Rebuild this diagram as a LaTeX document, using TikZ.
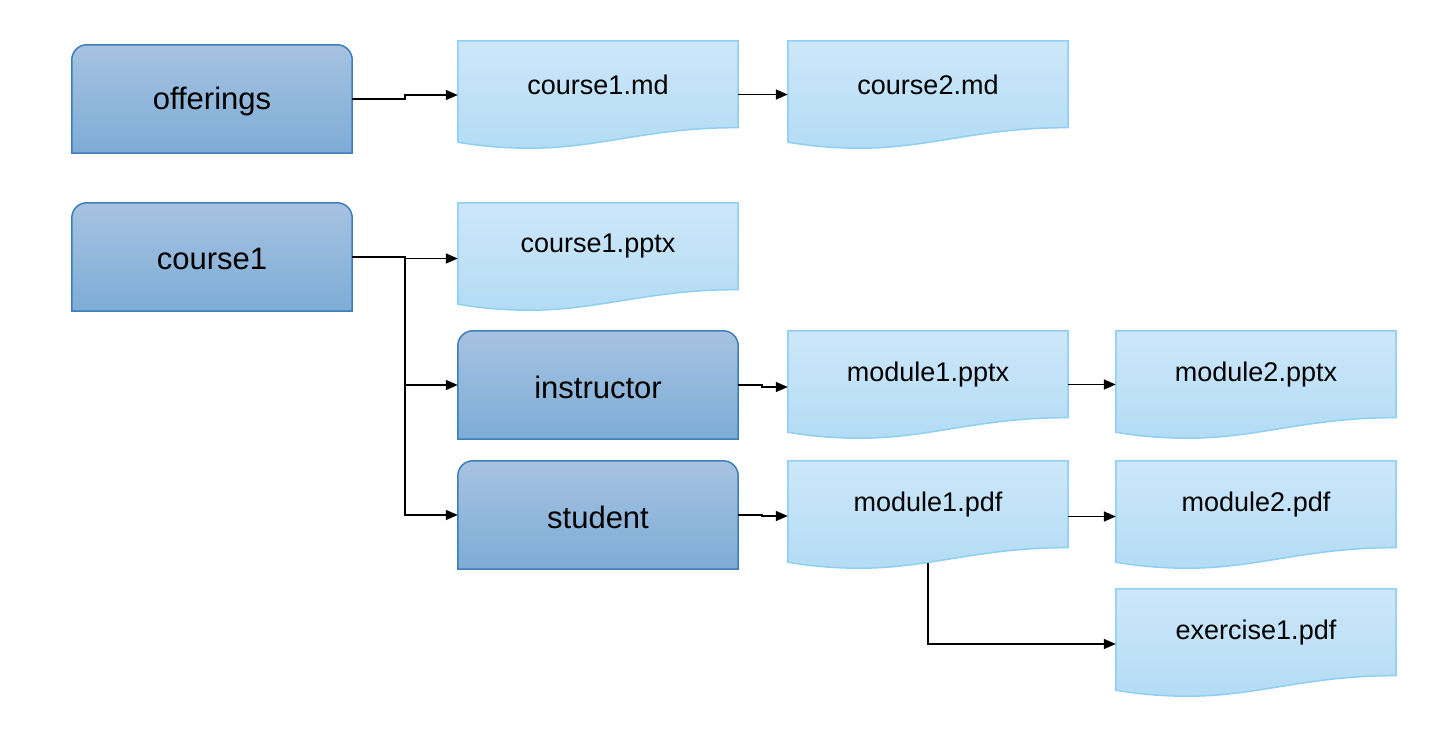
\documentclass[tikz,border=0pt]{standalone}
\usepackage{fontspec}
\setmainfont{Liberation Sans}
\usetikzlibrary{arrows.meta,backgrounds}

\definecolor{boxtop}{HTML}{A6C3E1}
\definecolor{boxbot}{HTML}{7DACD6}
\definecolor{boxline}{HTML}{3E7FBA}
\definecolor{doctop}{HTML}{CDE7F9}
\definecolor{docbot}{HTML}{B3DCF5}
\definecolor{docline}{HTML}{8ECFF2}

\begin{document}
\begin{tikzpicture}[x=1pt,y=-1pt,
every node/.style={inner sep=0pt},
folder/.style={minimum width=280pt, minimum height=108pt},
docu/.style={minimum width=280pt, minimum height=107pt},
link/.style={line width=1.5pt, -{Triangle[length=12pt,width=10pt]}}
]
\useasboundingbox (0,0) rectangle (1452,742);

% folders (square bottom corners)
\foreach \n/\x/\y/\t in {off/212/99/offerings, crs/212/257/course1,
                         ins/598/385/instructor, stu/598/515/student}
{
  \node (\n) [folder] at (\x,\y) {};
  \shade[top color=boxtop, bottom color=boxbot, draw=boxline, line width=1.5pt, rounded corners=15pt]
     (\n.south west) -- (\n.north west) -- (\n.north east) [sharp corners] -- (\n.south east) -- cycle;
  \node at ([yshift=-2pt]\n) [font=\fontsize{31}{36}\selectfont] {\t};
}

% documents
\foreach \n/\x/\y/\t in {cmd/598/94.5/course1.md, c2md/928/94.5/course2.md,
                         cppt/598/256.5/course1.pptx,
                         m1ppt/928/384.5/module1.pptx, m2ppt/1256/384.5/module2.pptx,
                         m1pdf/928/514.5/module1.pdf, m2pdf/1256/514.5/module2.pdf,
                         ex1/1256/642.5/exercise1.pdf}
{
  \node (\n) [docu] at (\x,\y) {};
  \shade[top color=doctop, bottom color=docbot, draw=docline, line width=1.5pt]
     (\n.north west) -- (\n.north east) -- ([yshift=20.5pt]\n.south east)
     .. controls ([xshift=-88pt,yshift=21pt]\n.south east) and ([xshift=-138pt]\n.south east)
     .. ([xshift=72pt]\n.south west)
     .. controls ([xshift=37pt]\n.south west) and ([xshift=12pt,yshift=4pt]\n.south west)
     .. ([yshift=6pt]\n.south west) -- cycle;
  \node at ([yshift=10pt]\n) [font=\fontsize{27}{32}\selectfont] {\t};
}

% connectors
\draw[link] (off.east) -- ++(53,0) |- ([yshift=-0.5pt]cmd.west);
\draw[link] (cmd.east) -- (c2md.west);
\draw[link] (crs.east) -- ++(53,0) |- ([yshift=-2pt]cppt.west);
\draw[link] ([xshift=53pt]crs.east) |- (ins.west);
\draw[link] ([xshift=53pt]crs.east) |- (stu.west);
\draw[link] (ins.east) -- ++(24,0) |- ([yshift=-2.5pt]m1ppt.west);
\draw[link] (m1ppt.east) -- (m2ppt.west);
\draw[link] (stu.east) -- ++(24,0) |- ([yshift=-1.5pt]m1pdf.west);
\draw[link] ([yshift=-2pt]m1pdf.east) -- ([yshift=-2pt]m2pdf.west);
\draw[link] ([yshift=5pt]m1pdf.south) |- ([yshift=-1.5pt]ex1.west);
\end{tikzpicture}
\end{document}
